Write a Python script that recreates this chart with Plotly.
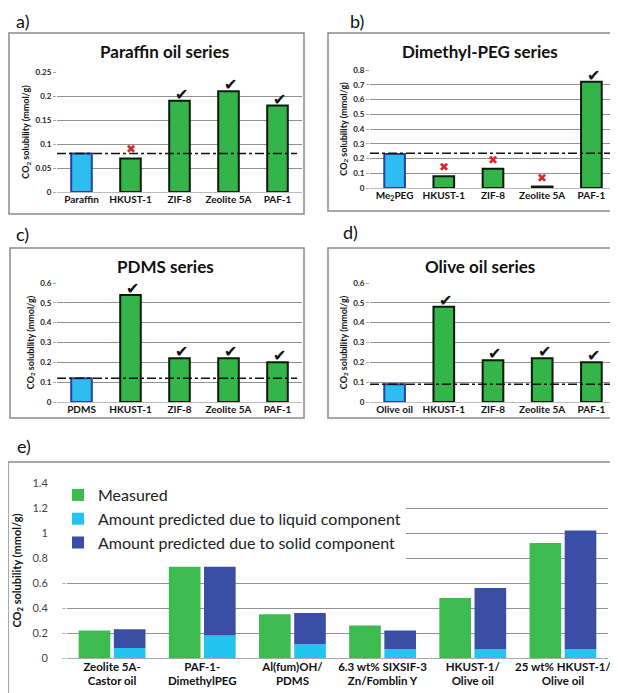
import plotly.graph_objects as go

# page body has an 8px margin: the figure is drawn at (8, 8) in the window
OFF = 8
W, H = 618 - OFF, 693 - OFF

# ---------------- data ----------------
a_cats = ["Paraffin", "HKUST-1", "ZIF-8", "Zeolite 5A", "PAF-1"]
a_vals = [0.08, 0.07, 0.19, 0.21, 0.18]
a_marks = ["", "x", "c", "c", "c"]
a_ref = 0.08

b_cats = ["Me<sub>2</sub>PEG", "HKUST-1", "ZIF-8", "Zeolite 5A", "PAF-1"]
b_vals = [0.23, 0.08, 0.13, 0.01, 0.72]
b_marks = ["", "x", "x", "x", "c"]
b_ref = 0.235

c_cats = ["PDMS", "HKUST-1", "ZIF-8", "Zeolite 5A", "PAF-1"]
c_vals = [0.12, 0.54, 0.22, 0.22, 0.20]
c_marks = ["", "c", "c", "c", "c"]
c_ref = 0.12

d_cats = ["Olive oil", "HKUST-1", "ZIF-8", "Zeolite 5A", "PAF-1"]
d_vals = [0.09, 0.48, 0.21, 0.22, 0.20]
d_marks = ["", "c", "c", "c", "c"]
d_ref = 0.09

e_cats = ["Zeolite 5A-<br>Castor oil", "PAF-1-<br>DimethylPEG", "Al(fum)OH/<br>PDMS",
          "6.3 wt% SIXSIF-3<br>Zn/Fomblin Y", "HKUST-1/<br>Olive oil", "25 wt% HKUST-1/<br>Olive oil"]
e_measured = [0.22, 0.73, 0.35, 0.26, 0.48, 0.92]
e_liquid = [0.08, 0.18, 0.11, 0.07, 0.07, 0.07]
e_solid = [0.15, 0.55, 0.25, 0.15, 0.49, 0.95]

FONT = "Lato"
GREEN = "#33b54a"
CYAN = "#2ebdf0"
EDGE_BLUE = "#2b3f9e"
E_GREEN = "#3dbb50"
E_CYAN = "#23c4ef"
E_BLUE = "#3a4ea6"
GRID = "#909090"


def px_x(p):
    return (p - OFF) / W


def px_y(p):
    return 1 - (p - OFF) / H


fig = go.Figure()

panels = [
    (a_cats, a_vals, a_marks, a_ref, "Paraffin oil series", "a)", 0.05, 0.25,
     (57, 302), (192, 72), (9, 33, 304, 214), (22, 21), 52),
    (b_cats, b_vals, b_marks, b_ref, "Dimethyl-PEG series", "b)", 0.1, 0.8,
     (370, 616), (188, 70), (328, 33, 620, 211), (357, 21), 52),
    (c_cats, c_vals, c_marks, c_ref, "PDMS series", "c)", 0.1, 0.6,
     (57, 302), (402, 283), (10, 248, 304, 418), (22, 234), 266),
    (d_cats, d_vals, d_marks, d_ref, "Olive oil series", "d)", 0.1, 0.6,
     (370, 616), (402, 283), (328, 248, 620, 418), (350, 232), 266),
]

shapes = []
annotations = []
layout_axes = {}

for i, (cats, vals, marks, ref, title, label, dtick, ymax, xd, yd, box, lpos, ty) in enumerate(panels):
    n = i + 1
    xa = "x" if n == 1 else f"x{n}"
    ya = "y" if n == 1 else f"y{n}"
    colors = [CYAN] + [GREEN] * (len(vals) - 1)
    lcolors = [EDGE_BLUE] + ["#0b1a0b"] * (len(vals) - 1)
    fig.add_trace(go.Bar(
        x=cats, y=vals, xaxis=xa, yaxis=ya, showlegend=False,
        marker=dict(color=colors, line=dict(color=lcolors, width=2)),
        width=0.42,
    ))
    layout_axes[f"xaxis{'' if n == 1 else n}"] = dict(
        domain=[px_x(xd[0]), min(1, px_x(xd[1]))], anchor=ya, automargin=False,
        tickfont=dict(family=FONT, size=10, color="#111", weight="bold"),
        showgrid=False, showline=False, ticks="", fixedrange=True,
    )
    layout_axes[f"yaxis{'' if n == 1 else n}"] = dict(
        domain=[px_y(yd[0]), px_y(yd[1])], anchor=xa, automargin=False,
        range=[0, ymax], dtick=dtick, tick0=0,
        showgrid=True, gridcolor=GRID, gridwidth=1,
        zeroline=True, zerolinecolor="#bbbbbb", zerolinewidth=1,
        showline=False, ticks="outside", ticklen=3, tickcolor="#aaa",
        tickfont=dict(family=FONT, size=8, color="#222", weight="bold"),
        title=dict(text="<b>CO<sub>2</sub> solubility (mmol/g)</b>",
                   font=dict(family=FONT, size=9, color="#111"), standoff=4),
    )
    shapes.append(dict(type="line", xref=f"{xa} domain", yref=ya,
                       x0=0.0, x1=0.98, y0=ref, y1=ref,
                       line=dict(color="#111", width=1.5, dash="dashdot")))
    shapes.append(dict(type="rect", xref="paper", yref="paper",
                       x0=px_x(box[0]), x1=px_x(box[2]),
                       y0=px_y(box[3]), y1=px_y(box[1]),
                       line=dict(color="#8a8a8a", width=1.5)))
    annotations.append(dict(text=label, xref="paper", yref="paper",
                            x=px_x(lpos[0]), y=px_y(lpos[1]), xanchor="center", yanchor="middle",
                            showarrow=False, font=dict(family=FONT, size=18, color="#111")))
    annotations.append(dict(text=f"<b>{title}</b>", xref="paper", yref="paper",
                            x=px_x((box[0] + min(box[2], 616)) / 2 + 8), y=px_y(ty),
                            xanchor="center", yanchor="middle", showarrow=False,
                            font=dict(family=FONT, size=17, color="#111")))
    for c, v, m in zip(cats, vals, marks):
        if m == "c":
            annotations.append(dict(text="✔", x=c, y=v, xref=xa, yref=ya,
                                    xanchor="center", yanchor="bottom", yshift=-5, xshift=2,
                                    showarrow=False, font=dict(family="DejaVu Sans", size=16, color="#111")))
        elif m == "x":
            annotations.append(dict(text="✖", x=c, y=v, xref=xa, yref=ya,
                                    xanchor="center", yanchor="bottom", yshift=0,
                                    showarrow=False, font=dict(family="DejaVu Sans", size=12, color="#d8262c")))

# ---------------- panel e ----------------
fig.add_trace(go.Bar(name="Measured", x=e_cats, y=e_measured, xaxis="x5", yaxis="y5",
                     offsetgroup="m", marker=dict(color=E_GREEN, line=dict(width=0))))
fig.add_trace(go.Bar(name="Amount predicted due to liquid component", x=e_cats, y=e_liquid,
                     xaxis="x5", yaxis="y5", offsetgroup="p",
                     marker=dict(color=E_CYAN, line=dict(width=0))))
fig.add_trace(go.Bar(name="Amount predicted due to solid component", x=e_cats, y=e_solid,
                     base=e_liquid, xaxis="x5", yaxis="y5", offsetgroup="p",
                     marker=dict(color=E_BLUE, line=dict(width=0))))

layout_axes["xaxis5"] = dict(
    domain=[px_x(67), px_x(608)], anchor="y5", automargin=False,
    tickfont=dict(family=FONT, size=11.5, color="#111", weight="bold"),
    showgrid=False, showline=False, ticks="", fixedrange=True,
)
layout_axes["yaxis5"] = dict(
    domain=[px_y(658), px_y(483)], anchor="x5", automargin=False,
    range=[0, 1.4], dtick=0.2, tick0=0,
    showgrid=True, gridcolor=GRID, gridwidth=1,
    zeroline=True, zerolinecolor="#aaaaaa", zerolinewidth=1,
    showline=False, ticks="outside", ticklen=4, tickcolor="#bbbbbb",
    ticklabelstandoff=12, tickformat="~g",
    tickfont=dict(family=FONT, size=11, color="#444"),
    title=dict(text="<b>CO<sub>2</sub> solubility (mmol/g)</b>",
               font=dict(family=FONT, size=11, color="#111"), standoff=8),
)
shapes.append(dict(type="rect", xref="paper", yref="paper",
                   x0=px_x(8), x1=px_x(616), y0=px_y(696), y1=px_y(462),
                   line=dict(color="#8a8a8a", width=1.5)))
annotations.append(dict(text="e)", xref="paper", yref="paper", x=px_x(24), y=px_y(446),
                        xanchor="center", yanchor="middle", showarrow=False,
                        font=dict(family=FONT, size=18, color="#111")))

fig.update_layout(
    width=W, height=H,
    margin=dict(l=0, r=0, t=0, b=0, autoexpand=False),
    paper_bgcolor="white", plot_bgcolor="white",
    barmode="group", bargap=0.22, bargroupgap=0.1,
    shapes=shapes, annotations=annotations,
    legend=dict(x=px_x(58), y=px_y(478), xanchor="left", yanchor="top",
                bgcolor="white", font=dict(family=FONT, size=16, color="#222"),
                itemwidth=30, tracegroupgap=0),
    font=dict(family=FONT),
    **layout_axes,
)

fig.write_html("out.html")
